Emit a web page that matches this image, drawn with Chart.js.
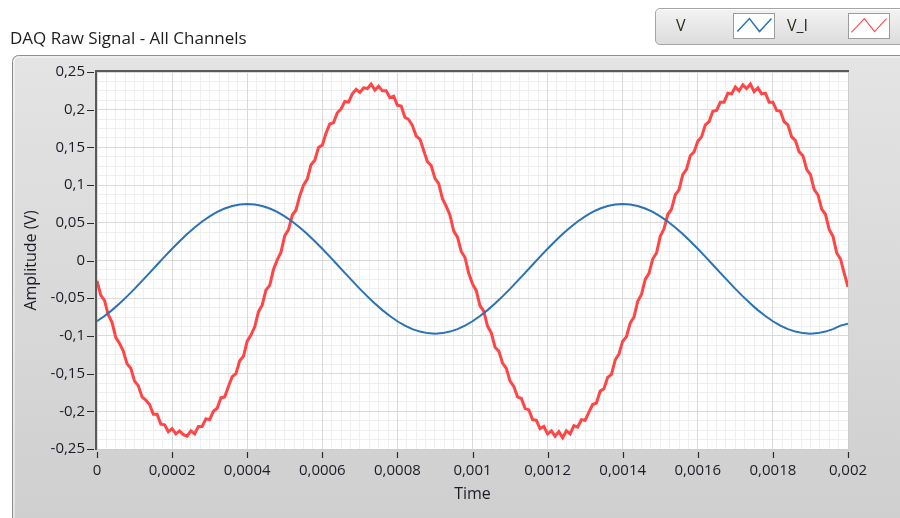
<!DOCTYPE html>
<html>
<head>
<meta charset="utf-8">
<title>DAQ Raw Signal - All Channels</title>
<script src="https://cdn.jsdelivr.net/npm/chart.js@4.4.1/dist/chart.umd.min.js"></script>
<style>
  html, body { margin: 0; padding: 0; background: #ffffff; }
  #wrap { position: relative; width: 900px; height: 518px; overflow: hidden; font-family: "Open Sans", "Noto Sans", sans-serif; }
  #chart { position: absolute; left: 0; top: 0; }
  #title { position: absolute; left: 10px; top: 26px; font-size: 17px; color: #1e1e1e; white-space: nowrap; }
  #legend { position: absolute; left: 655px; top: 8px; width: 260px; height: 37px; box-sizing: border-box;
            border: 1px solid #a4a4a4; border-radius: 5px;
            background: linear-gradient(#f3f3f3, #dcdcdc); box-shadow: inset 0 1px 0 #ffffff; }
  .lg-name { position: absolute; top: 5px; font-size: 16px; color: #2e2a1a; }
  .lg-icon { position: absolute; top: 4px; width: 42px; height: 26px; background: #ffffff; border: 1px solid #9c9c9c; box-sizing: border-box; }
</style>
</head>
<body>
<div id="wrap">
  <canvas id="chart" width="900" height="518"></canvas>
  <div id="title">DAQ Raw Signal - All Channels</div>
  <div id="legend">
    <span class="lg-name" style="left:20px">V</span>
    <svg class="lg-icon" style="left:77px" viewBox="0 0 42 26"><polyline points="3,19 16,5 27,19 40,5" fill="none" stroke="#2a72b5" stroke-width="1.6"/></svg>
    <span class="lg-name" style="left:131px">V_I</span>
    <svg class="lg-icon" style="left:192px" viewBox="0 0 42 26"><polyline points="2,20 16,5 27,19 40,5" fill="none" stroke="#ff4b4b" stroke-width="1.2"/></svg>
  </div>
</div>
<script>
// Waveform timing (t0 and sample interval) for each channel
const T0 = 0;
const DT_V = 0.00002;
const DT_VI = 0.00001;

// Channel V samples (volts)
const V = [
  -0.0806, -0.0737, -0.0658, -0.0571, -0.0476, -0.0376, -0.0271, -0.0164, -0.0056, 0.0051,
  0.0156, 0.0256, 0.0351, 0.0438, 0.0517, 0.0586, 0.0644, 0.0690, 0.0723, 0.0743,
  0.0750, 0.0743, 0.0723, 0.0690, 0.0644, 0.0586, 0.0517, 0.0438, 0.0351, 0.0256,
  0.0156, 0.0051, -0.0056, -0.0164, -0.0271, -0.0376, -0.0476, -0.0571, -0.0658, -0.0737,
  -0.0806, -0.0864, -0.0910, -0.0943, -0.0963, -0.0970, -0.0963, -0.0943, -0.0910, -0.0864,
  -0.0806, -0.0737, -0.0658, -0.0571, -0.0476, -0.0376, -0.0271, -0.0164, -0.0056, 0.0051,
  0.0156, 0.0256, 0.0351, 0.0438, 0.0517, 0.0586, 0.0644, 0.0690, 0.0723, 0.0743,
  0.0750, 0.0743, 0.0723, 0.0690, 0.0644, 0.0586, 0.0517, 0.0438, 0.0351, 0.0256,
  0.0156, 0.0051, -0.0056, -0.0164, -0.0271, -0.0376, -0.0476, -0.0571, -0.0658, -0.0737,
  -0.0806, -0.0864, -0.0910, -0.0943, -0.0963, -0.0970, -0.0963, -0.0943, -0.0910, -0.0864,
  -0.0840
];

// Channel V_I samples (volts)
const V_I = [
  -0.027, -0.046, -0.053, -0.072, -0.082, -0.102, -0.110, -0.120, -0.137, -0.143,
  -0.160, -0.166, -0.181, -0.185, -0.191, -0.204, -0.204, -0.217, -0.218, -0.227,
  -0.223, -0.230, -0.226, -0.231, -0.233, -0.226, -0.230, -0.220, -0.220, -0.210,
  -0.211, -0.200, -0.196, -0.182, -0.181, -0.167, -0.154, -0.150, -0.133, -0.127,
  -0.107, -0.099, -0.088, -0.068, -0.059, -0.039, -0.033, -0.012, 0.001, 0.011,
  0.033, 0.041, 0.060, 0.067, 0.086, 0.100, 0.108, 0.127, 0.133, 0.150,
  0.153, 0.169, 0.181, 0.183, 0.196, 0.201, 0.211, 0.210, 0.221, 0.227,
  0.223, 0.229, 0.228, 0.234, 0.226, 0.231, 0.225, 0.225, 0.216, 0.218,
  0.206, 0.205, 0.190, 0.187, 0.179, 0.165, 0.161, 0.146, 0.131, 0.126,
  0.109, 0.102, 0.082, 0.072, 0.060, 0.039, 0.031, 0.012, 0.004, -0.017,
  -0.031, -0.040, -0.060, -0.067, -0.087, -0.096, -0.115, -0.120, -0.136, -0.143,
  -0.160, -0.167, -0.181, -0.183, -0.196, -0.198, -0.211, -0.212, -0.223, -0.220,
  -0.230, -0.226, -0.233, -0.227, -0.235, -0.226, -0.230, -0.219, -0.221, -0.211,
  -0.212, -0.201, -0.191, -0.189, -0.173, -0.170, -0.155, -0.151, -0.132, -0.124,
  -0.107, -0.101, -0.083, -0.075, -0.054, -0.045, -0.025, -0.017, 0.002, 0.010,
  0.032, 0.042, 0.061, 0.068, 0.087, 0.094, 0.114, 0.121, 0.139, 0.144,
  0.158, 0.164, 0.180, 0.184, 0.198, 0.199, 0.210, 0.210, 0.222, 0.221,
  0.230, 0.225, 0.233, 0.228, 0.234, 0.224, 0.229, 0.221, 0.222, 0.210,
  0.210, 0.199, 0.198, 0.184, 0.180, 0.164, 0.159, 0.144, 0.139, 0.121,
  0.114, 0.094, 0.087, 0.068, 0.061, 0.041, 0.032, 0.010, 0.002, -0.017,
  -0.035
];

// Axis ranges and tick spacing
const X_RANGE = [0, 0.002];
const X_MAJOR = 0.0002;
const X_MINOR = 0.000025;
const Y_RANGE = [-0.25, 0.25];
const Y_MAJOR = 0.05;
const Y_MINOR = 0.0125;

function toPoints(samples, dt) {
  return samples.map((v, i) => ({ x: T0 + i * dt, y: v }));
}

function commaLabel(v) {
  return String(Number(v.toFixed(6))).replace('.', ',');
}

const FONT = { family: '"Open Sans", "Noto Sans", sans-serif', size: 15 };
const TITLE_FONT = { family: '"Open Sans", "Noto Sans", sans-serif', size: 16 };
const LABEL_COLOR = '#1c1c28';

// Panel, plot background and plot frame
const panelPlugin = {
  id: 'panel',
  beforeDraw(chart) {
    const { ctx, chartArea: a } = chart;
    ctx.save();
    ctx.fillStyle = '#ffffff';
    ctx.fillRect(0, 0, chart.width, chart.height);

    const px = 12.5, py = 55.5, r = 6;
    const g = ctx.createLinearGradient(0, py, 0, chart.height);
    g.addColorStop(0, '#e4e4e4');
    g.addColorStop(1, '#cfcfcf');
    ctx.beginPath();
    ctx.moveTo(px, chart.height + 10);
    ctx.lineTo(px, py + r);
    ctx.arcTo(px, py, px + r, py, r);
    ctx.lineTo(chart.width + 10, py);
    ctx.lineTo(chart.width + 10, chart.height + 10);
    ctx.closePath();
    ctx.fillStyle = g;
    ctx.fill();
    ctx.beginPath();
    ctx.moveTo(px, chart.height + 10);
    ctx.lineTo(px, py + r);
    ctx.arcTo(px, py, px + r, py, r);
    ctx.lineTo(chart.width + 10, py);
    ctx.strokeStyle = '#8e8e8e';
    ctx.lineWidth = 1;
    ctx.stroke();
    ctx.beginPath();
    ctx.moveTo(px + 1.5, chart.height + 10);
    ctx.lineTo(px + 1.5, py + r);
    ctx.arcTo(px + 1.5, py + 1.5, px + r + 1.5, py + 1.5, r - 1);
    ctx.lineTo(chart.width + 10, py + 1.5);
    ctx.strokeStyle = '#f8f8f8';
    ctx.stroke();

    ctx.fillStyle = '#ffffff';
    ctx.fillRect(a.left, a.top, a.right - a.left, a.bottom - a.top);
    ctx.restore();
  },
  afterDatasetsDraw(chart) {
    const { ctx, chartArea: a } = chart;
    ctx.save();
    ctx.lineWidth = 1;
    ctx.strokeStyle = '#cdcdcd';
    ctx.beginPath();
    ctx.moveTo(a.left, a.bottom + 0.5);
    ctx.lineTo(a.right + 0.5, a.bottom + 0.5);
    ctx.lineTo(a.right + 0.5, a.top);
    ctx.stroke();
    ctx.lineWidth = 2;
    ctx.strokeStyle = '#5a5a5a';
    ctx.beginPath();
    ctx.moveTo(a.left - 1, a.bottom + 1);
    ctx.lineTo(a.left - 1, a.top - 1);
    ctx.lineTo(a.right + 1, a.top - 1);
    ctx.stroke();

    // tick marks, set a little away from the frame
    const xs = chart.scales.x, ys = chart.scales.y;
    ctx.lineWidth = 1.2;
    ctx.strokeStyle = '#2a2a2a';
    ctx.beginPath();
    xs.ticks.forEach(t => {
      const p = Math.round(xs.getPixelForValue(t.value)) + 0.5;
      ctx.moveTo(p, a.bottom + 3);
      ctx.lineTo(p, a.bottom + 9);
    });
    ys.ticks.forEach(t => {
      const p = Math.round(ys.getPixelForValue(t.value)) + 0.5;
      ctx.moveTo(a.left - 10, p);
      ctx.lineTo(a.left - 3, p);
    });
    ctx.stroke();
    ctx.restore();
  }
};

new Chart(document.getElementById('chart'), {
  type: 'line',
  data: {
    datasets: [
      {
        label: 'V',
        data: toPoints(V, DT_V),
        borderColor: '#2a72b5',
        borderWidth: 2,
        pointRadius: 0,
        tension: 0
      },
      {
        label: 'V_I',
        data: toPoints(V_I, DT_VI),
        borderColor: '#ff4545',
        borderWidth: 3,
        pointRadius: 0,
        tension: 0
      }
    ]
  },
  options: {
    responsive: false,
    animation: false,
    events: [],
    layout: { padding: { left: 0, top: 72, right: 52, bottom: 0 } },
    plugins: { legend: { display: false }, tooltip: { enabled: false }, title: { display: false } },
    scales: {
      xMinor: {
        type: 'linear', position: 'bottom', z: -2,
        min: X_RANGE[0], max: X_RANGE[1],
        ticks: { display: false, stepSize: X_MINOR },
        grid: { color: '#efefef', lineWidth: 1, drawTicks: false },
        border: { display: false },
        afterFit(s) { s.height = 0; }
      },
      yMinor: {
        type: 'linear', position: 'left', z: -2,
        min: Y_RANGE[0], max: Y_RANGE[1],
        ticks: { display: false, stepSize: Y_MINOR },
        grid: { color: '#efefef', lineWidth: 1, drawTicks: false },
        border: { display: false },
        afterFit(s) { s.width = 0; }
      },
      x: {
        type: 'linear', position: 'bottom', z: -1,
        min: X_RANGE[0], max: X_RANGE[1],
        ticks: { stepSize: X_MAJOR, padding: 13, color: LABEL_COLOR, font: FONT, maxRotation: 0, autoSkip: false, callback: commaLabel },
        grid: { color: '#dadada', lineWidth: 1, drawTicks: false },
        border: { display: false },
        title: { display: true, text: 'Time', color: LABEL_COLOR, font: TITLE_FONT, padding: { top: 0, bottom: 14 } },
        afterFit(s) { s.height = 69; }
      },
      y: {
        type: 'linear', position: 'left', z: -1,
        min: Y_RANGE[0], max: Y_RANGE[1],
        ticks: { stepSize: Y_MAJOR, padding: 12, color: LABEL_COLOR, font: FONT, autoSkip: false, callback: commaLabel },
        grid: { color: '#dadada', lineWidth: 1, drawTicks: false },
        border: { display: false },
        title: { display: true, text: 'Amplitude (V)', color: LABEL_COLOR, font: TITLE_FONT, padding: { top: 22, bottom: 0 } },
        afterFit(s) { s.width = 97; }
      }
    }
  },
  plugins: [panelPlugin]
});
</script>
</body>
</html>
